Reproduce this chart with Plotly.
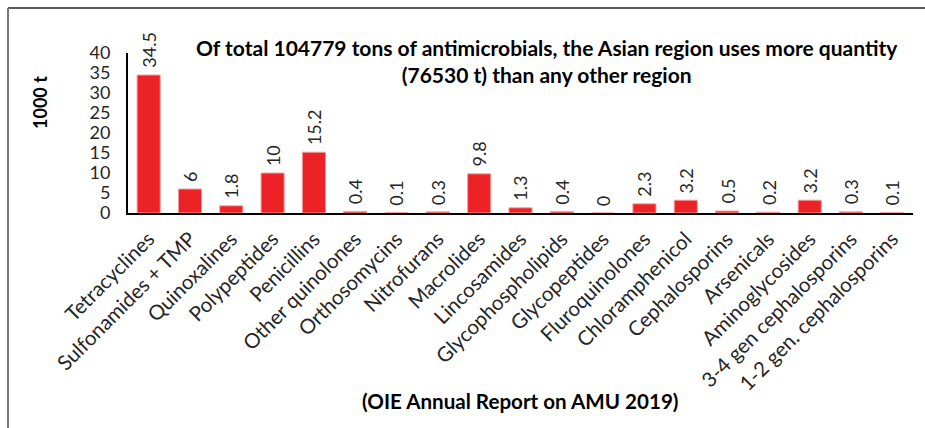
import plotly.graph_objects as go

categories = ["Tetracyclines", "Sulfonamides + TMP", "Quinoxalines", "Polypeptides",
              "Penicillins", "Other quinolones", "Orthosomycins", "Nitrofurans",
              "Macrolides", "Lincosamides", "Glycophospholipids", "Glycopeptides",
              "Fluroquinolones", "Chloramphenicol", "Cephalosporins", "Arsenicals",
              "Aminoglycosides", "3-4 gen cephalosporins", "1-2 gen. cephalosporins"]
values = [34.5, 6, 1.8, 10, 15.2, 0.4, 0.1, 0.3, 9.8, 1.3, 0.4, 0, 2.3, 3.2, 0.5, 0.2, 3.2, 0.3, 0.1]
y_ticks = [0, 5, 10, 15, 20, 25, 30, 35, 40]

FONT = "Lato"
TXT = "#262626"

def px_x(p):
    return (p - 128) / 785

def px_y(p):
    return (213 - p) / 160

fig = go.Figure()
fig.add_trace(go.Bar(
    x=categories, y=values,
    marker=dict(color="#ED2226", line=dict(color="#F4A0A0", width=1)),
    hoverinfo="x+y",
))

annotations = [
    dict(x=c, y=v, xref="x", yref="y", text=f"{v:g}", textangle=-90,
         xanchor="center", yanchor="bottom", yshift=5, showarrow=False,
         font=dict(family=FONT, size=18, color=TXT))
    for c, v in zip(categories, values)
]
annotations += [
    dict(text="<b>Of total 104779 tons of antimicrobials, the Asian region uses more quantity<br>(76530 t) than any other region</b>",
         xref="paper", yref="paper", x=px_x(547), y=px_y(61),
         xanchor="center", yanchor="middle", showarrow=False,
         font=dict(family=FONT, size=21, color="black")),
    dict(text="<b>1000 t</b>", xref="paper", yref="paper",
         x=px_x(40), y=px_y(103), xanchor="center", yanchor="middle",
         textangle=-90, showarrow=False, font=dict(family=FONT, size=18, color="black")),
    dict(text="<b>(OIE Annual Report on AMU 2019)</b>", xref="paper", yref="paper",
         x=px_x(520), y=px_y(401), xanchor="center", yanchor="middle",
         showarrow=False, font=dict(family=FONT, size=20.6, color="black")),
]

fig.update_layout(
    width=925, height=428,
    margin=dict(l=128, r=12, t=53, b=215),
    paper_bgcolor="white", plot_bgcolor="white",
    bargap=0.44, showlegend=False,
    font=dict(family=FONT, size=18, color=TXT),
    xaxis=dict(tickangle=-45, showline=True, linecolor="black", linewidth=2,
               ticks="", automargin=False, ticklabelstandoff=4,
               tickfont=dict(family=FONT, size=20.5, color=TXT)),
    yaxis=dict(range=[0, 40], tickvals=y_ticks, showgrid=False, showline=True,
               linecolor="black", linewidth=2, ticks="", zeroline=False, automargin=False,
               ticklabelstandoff=12, tickfont=dict(family=FONT, size=18, color=TXT)),
    annotations=annotations,
    shapes=[
        dict(type="line", xref="paper", yref="paper", x0=px_x(8), x1=px_x(930),
             y0=px_y(8), y1=px_y(8), line=dict(color="#222222", width=1.5)),
        dict(type="line", xref="paper", yref="paper", x0=px_x(8), x1=px_x(8),
             y0=px_y(8), y1=px_y(430), line=dict(color="#777777", width=2)),
    ],
)
fig.write_html("out.html")
